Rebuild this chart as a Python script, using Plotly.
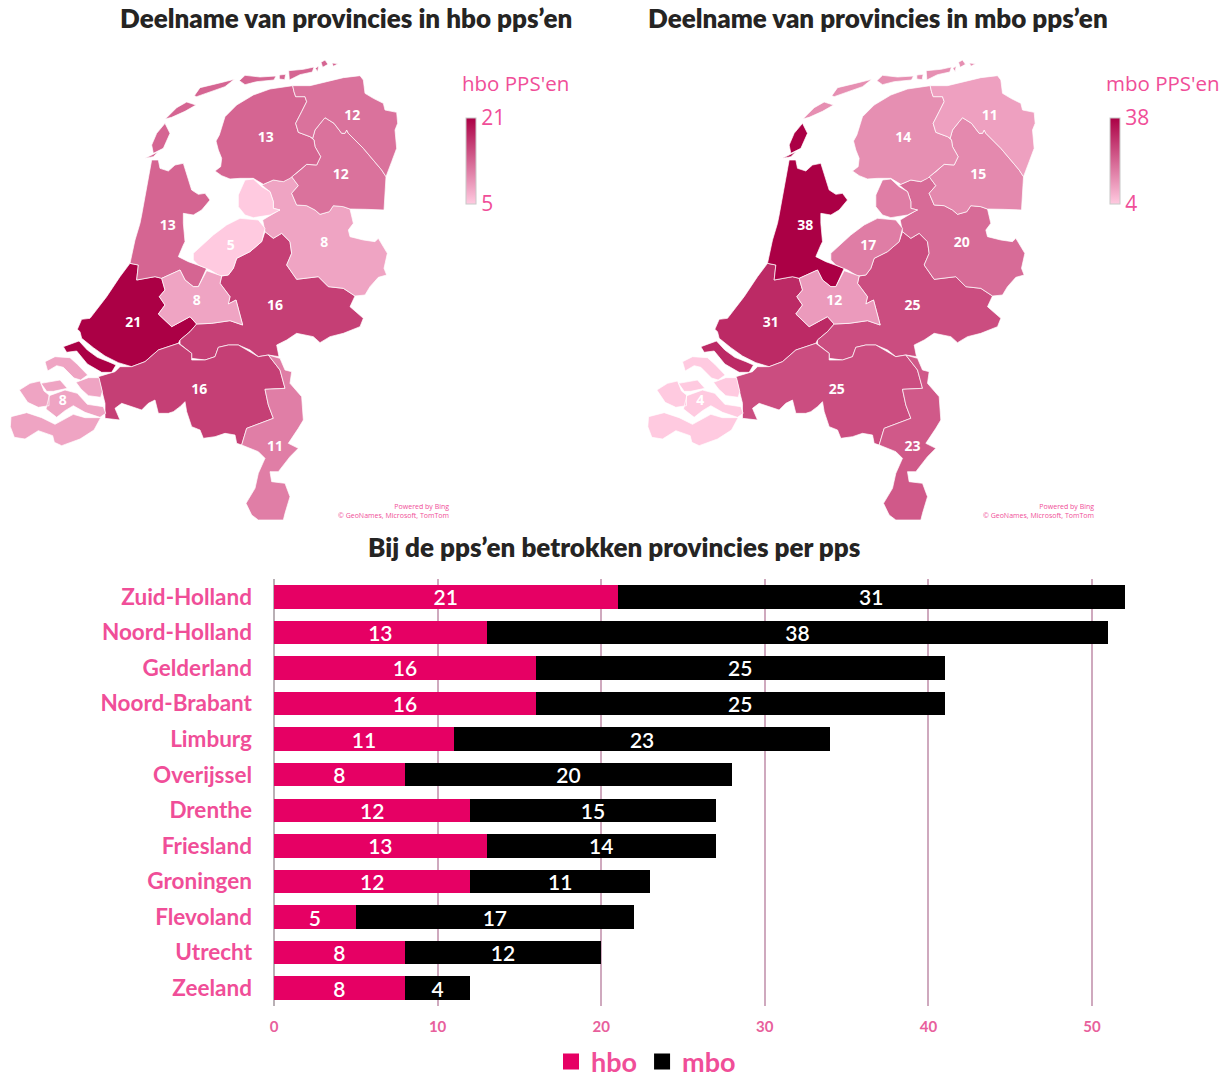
import plotly.graph_objects as go
from plotly.colors import sample_colorscale

W, H = 1227, 1078

# ---- chart data ----
provinces = ["Zuid-Holland", "Noord-Holland", "Gelderland", "Noord-Brabant", "Limburg", "Overijssel",
             "Drenthe", "Friesland", "Groningen", "Flevoland", "Utrecht", "Zeeland"]
hbo = [21, 13, 16, 16, 11, 8, 12, 13, 12, 5, 8, 8]
mbo = [31, 38, 25, 25, 23, 20, 15, 14, 11, 17, 12, 4]

# ---- province outlines (map units) ----
friesland = [
    [(496,207),(530,173),(560,156),(588,165),(555,184),(515,202)],
    [(583,137),(600,113),(650,101),(703,88),(675,110),(630,125),(590,140)],
    [(718,92),(735,76),(780,81),(828,78),(822,90),(770,95),(735,104)],
    [(838,75),(857,73),(854,89),(838,87)],
    [(866,62),(910,58),(942,51),(937,66),(900,74),(868,90)],
    [(946,55),(956,48),(953,65)],
    [(963,37),(975,30),(984,43),(968,52)],
    [(996,39),(1014,41),(1000,49)],
    [(658,255),(675,200),(710,165),(760,135),(810,117),(878,107),(882,125),(887,140),(915,140),(920,155),(905,185),(887,220),(895,247),(930,260),(942,270),(945,290),(962,320),(950,345),(920,343),(895,365),(870,385),(850,395),(820,390),(790,403),(760,385),(720,385),(690,387),(665,377),(645,363),(662,350),(665,325),(655,300),(648,273)],
]
groningen = [[(878,107),(930,107),(980,95),(1030,83),(1080,77),(1090,90),(1095,130),(1120,145),(1150,160),(1155,180),(1190,187),(1193,220),(1185,240),(1190,295),(1175,335),(1158,380),(1145,360),(1090,295),(1045,250),(1040,240),(1035,250),(1025,250),(1002,220),(975,203),(965,215),(945,240),(938,265),(930,260),(895,247),(887,220),(905,185),(920,155),(915,140),(887,140),(882,125)]]
drenthe = [[(975,203),(1002,220),(1025,250),(1035,250),(1040,240),(1045,250),(1090,295),(1145,360),(1158,380),(1152,480),(1100,478),(1050,477),(1030,470),(1000,467),(988,485),(960,493),(945,480),(920,467),(890,465),(875,430),(895,407),(875,380),(895,365),(920,343),(950,345),(962,320),(945,290),(942,270),(938,265),(945,240),(965,215)]]
overijssel = [[(785,405),(820,390),(850,395),(875,380),(895,407),(875,430),(890,465),(920,467),(945,480),(960,493),(988,485),(1000,467),(1030,470),(1050,477),(1060,520),(1045,540),(1050,560),(1090,570),(1125,575),(1135,565),(1162,610),(1152,655),(1160,675),(1135,682),(1110,710),(1095,735),(1065,738),(1030,715),(985,710),(955,680),(890,688),(860,645),(875,610),(870,575),(845,550),(820,565),(795,545),(788,510),(835,482),(840,480),(820,475),(820,455),(810,425)]]
flevoland = [
    [(735,390),(760,387),(785,410),(810,425),(820,455),(820,475),(840,480),(810,495),(760,503),(735,495),(715,470),(715,435)],
    [(580,610),(640,555),(680,525),(720,505),(775,510),(795,535),(785,575),(750,605),(710,625),(700,655),(685,675),(660,678),(630,660),(595,645),(580,630)],
]
noord_holland = [
    [(455,330),(475,330),(480,355),(505,363),(525,345),(550,340),(575,420),(595,433),(615,430),(630,450),(605,480),(580,495),(550,490),(550,520),(555,575),(550,585),(535,620),(565,635),(620,655),(595,710),(580,710),(555,690),(540,660),(485,685),(465,680),(410,690),(415,645),(390,640),(405,570),(420,520),(425,495),(440,415)],
    [(495,220),(510,250),(490,295),(460,310),(455,285),(470,250)],
    [(435,325),(475,305),(460,320)],
]
zuid_holland = [
    [(390,640),(415,645),(410,690),(465,680),(485,685),(495,720),(478,740),(495,765),(475,792),(515,830),(570,800),(590,822),(570,845),(540,870),(535,880),(475,900),(435,935),(395,950),(355,938),(315,918),(280,893),(245,865),(240,845),(232,838),(245,808),(270,805),(320,740),(360,680)],
    [(190,890),(237,873),(262,900),(292,922),(325,935),(348,945),(335,967),(305,967),(262,942),(248,925),(230,903),(200,907)],
]
utrecht = [[(485,685),(540,660),(555,690),(580,710),(595,710),(620,662),(665,678),(660,700),(690,740),(685,762),(708,750),(728,825),(690,812),(635,820),(590,822),(570,800),(515,830),(475,792),(495,765),(478,740),(495,720)]]
gelderland = [[(795,545),(820,565),(845,550),(870,575),(875,610),(860,645),(890,688),(955,680),(985,710),(1030,715),(1065,738),(1050,770),(1090,805),(1080,830),(1030,850),(990,860),(960,878),(940,860),(890,850),(860,870),(830,885),(837,920),(805,915),(775,920),(750,900),(715,885),(685,885),(655,892),(645,920),(615,930),(575,925),(575,910),(540,882),(540,870),(570,845),(590,822),(635,820),(690,812),(728,825),(708,750),(685,762),(690,740),(660,700),(665,678),(685,675),(700,655),(710,625),(750,605),(785,575)]]
noord_brabant = [[(295,980),(345,965),(360,950),(395,950),(435,935),(475,900),(535,880),(575,910),(575,930),(615,930),(645,920),(655,892),(685,885),(715,885),(775,920),(805,915),(840,960),(855,1015),(795,1018),(805,1065),(820,1105),(740,1135),(725,1185),(710,1180),(705,1155),(675,1150),(645,1160),(610,1165),(600,1140),(575,1130),(560,1085),(555,1055),(540,1070),(520,1085),(505,1090),(475,1090),(465,1050),(445,1060),(425,1080),(365,1060),(345,1075),(360,1110),(315,1105),(315,1060),(305,1020)]]
limburg = [[(805,915),(840,925),(855,960),(875,965),(870,1000),(905,1040),(910,1110),(895,1135),(865,1180),(895,1195),(870,1220),(835,1265),(810,1265),(815,1295),(855,1300),(870,1340),(855,1390),(850,1410),(775,1410),(755,1395),(738,1360),(765,1315),(775,1270),(795,1225),(775,1205),(725,1185),(740,1135),(820,1105),(805,1065),(795,1018),(855,1015),(840,960)]]
zeeland = [
    [(135,935),(165,920),(210,923),(232,943),(263,975),(242,990),(222,984),(190,952),(170,947),(143,963)],
    [(228,997),(265,983),(297,983),(307,1025),(302,1042),(265,1037),(243,1017)],
    [(58,1020),(90,1000),(120,993),(132,1023),(147,1035),(147,1067),(115,1072),(83,1057)],
    [(123,1000),(180,990),(202,1015),(160,1024),(140,1024)],
    [(148,1037),(195,1020),(232,1030),(262,1063),(310,1070),(317,1090),(300,1102),(255,1087),(220,1067),(195,1082),(170,1102),(138,1077)],
    [(33,1100),(80,1088),(125,1103),(165,1123),(220,1093),(255,1103),(302,1103),(282,1140),(240,1167),(185,1187),(163,1177),(158,1157),(115,1142),(75,1167),(43,1162),(31,1130)],
]
shapes_by_province = {
    "Zuid-Holland": zuid_holland, "Noord-Holland": noord_holland, "Gelderland": gelderland,
    "Noord-Brabant": noord_brabant, "Limburg": limburg, "Overijssel": overijssel, "Drenthe": drenthe,
    "Friesland": friesland, "Groningen": groningen, "Flevoland": flevoland, "Utrecht": utrecht, "Zeeland": zeeland,
}
label_anchor = {
    "Zuid-Holland": (400,820), "Noord-Holland": (503,530), "Gelderland": (825,770), "Noord-Brabant": (598,1020),
    "Limburg": (825,1193), "Overijssel": (973,580), "Drenthe": (1022,377), "Friesland": (797,265),
    "Groningen": (1057,200), "Flevoland": (692,590), "Utrecht": (590,755), "Zeeland": (188,1055),
}

# ---- style ----
PINK_TEXT = "#F04E98"
DARK_TEXT = "#252423"
LOW, HIGH = "#FFCAE0", "#AB0045"
SCALE = [[0, LOW], [1, HIGH]]
TITLE_FONT = "Lato"
BAR_FONT = "Lato"
MAP_FONT = "Open Sans"


def dom_x(a, b):
    return [a / W, b / W]


def dom_y(top, bottom):
    return [1 - bottom / H, 1 - top / H]


fig = go.Figure()


def add_map(values, xa, ya, legend_title, title_x, cbar_x):
    lo, hi = min(values), max(values)
    for name, val in zip(provinces, values):
        xs, ys = [], []
        for poly in shapes_by_province[name]:
            xs += [p[0] for p in poly] + [poly[0][0], None]
            ys += [p[1] for p in poly] + [poly[0][1], None]
        colour = sample_colorscale(SCALE, (val - lo) / (hi - lo))[0]
        fig.add_trace(go.Scatter(x=xs, y=ys, xaxis=xa, yaxis=ya, mode="lines", fill="toself",
                                 fillcolor=colour, line=dict(color="white", width=0.7),
                                 name=name, showlegend=False, hoverinfo="name"))
    fig.add_trace(go.Scatter(
        x=[label_anchor[n][0] for n in provinces], y=[label_anchor[n][1] for n in provinces],
        xaxis=xa, yaxis=ya, mode="text", text=[str(v) for v in values],
        textfont=dict(family=MAP_FONT, size=14, color="white", weight=700),
        showlegend=False, hoverinfo="skip"))
    fig.add_trace(go.Scatter(
        x=[None, None], y=[None, None], xaxis=xa, yaxis=ya, mode="markers", showlegend=False, hoverinfo="skip",
        marker=dict(color=[lo, hi], cmin=lo, cmax=hi, colorscale=SCALE, showscale=True,
                    colorbar=dict(x=cbar_x / W, xanchor="left", y=1 - 118 / H, yanchor="top",
                                  len=86, lenmode="pixels", thickness=10, thicknessmode="pixels",
                                  outlinecolor="#C8C8C8", outlinewidth=1, borderwidth=0, xpad=0, ypad=0,
                                  tickmode="array", tickvals=[lo, hi], ticktext=[str(lo), str(hi)],
                                  ticks="", ticklabelposition="outside",
                                  tickfont=dict(family=MAP_FONT, size=21, color=PINK_TEXT)))))
    fig.add_annotation(xref="paper", yref="paper", x=title_x / W, y=1 - 83 / H, xanchor="left", yanchor="middle",
                       text=legend_title, showarrow=False, xshift=-2,
                       font=dict(family=MAP_FONT, size=20.5, color=PINK_TEXT))


# maps: both share the same outline units
add_map(hbo, "x2", "y2", "hbo PPS'en", 462, 466)
add_map(mbo, "x3", "y3", "mbo PPS'en", 1106, 1110)

for ax, left in (("xaxis2", 0), ("xaxis3", 637.5)):
    fig.layout[ax] = dict(domain=dom_x(left, left + 520), range=[0, 1560], visible=False, fixedrange=True)
for ax, xa in (("yaxis2", "x2"), ("yaxis3", "x3")):
    fig.layout[ax] = dict(domain=dom_y(50, 530), range=[1440, 0], visible=False, fixedrange=True, anchor=xa)
fig.layout.xaxis2.anchor = "y2"
fig.layout.xaxis3.anchor = "y3"

# bars
for name, vals, colour in (("hbo", hbo, "#E60064"), ("mbo", mbo, "#000000")):
    fig.add_trace(go.Bar(y=provinces, x=vals, name=name, orientation="h", showlegend=False,
                         marker=dict(color=colour, line_width=0),
                         text=vals, textposition="inside", insidetextanchor="middle", textangle=0,
                         constraintext="none",
                         insidetextfont=dict(family=BAR_FONT, size=21, color="white", weight=600)))
    # legend swatch with the reference's square size
    fig.add_trace(go.Scatter(x=[None], y=[None], name=name, mode="markers",
                             marker=dict(symbol="square", size=16, color=colour, line_width=0)))

fig.update_layout(
    width=W, height=H, margin=dict(l=0, r=0, t=0, b=0, autoexpand=False), paper_bgcolor="white", plot_bgcolor="white",
    barmode="stack", bargap=0.34, font=dict(family=BAR_FONT, color=PINK_TEXT),
    xaxis=dict(domain=dom_x(274, 1200), range=[0, 56.6], dtick=10, tick0=0, showgrid=True, gridcolor="#CFA9BE",
               gridwidth=1.5, zeroline=True, zerolinecolor="#B9B0B5", zerolinewidth=1.5, ticks="", showline=False,
               tickfont=dict(family=BAR_FONT, size=15, color="#E8609C", weight=700), ticklabelstandoff=10, anchor="y"),
    yaxis=dict(domain=dom_y(579, 1006), autorange="reversed", showgrid=False, ticks="", showline=False,
               tickfont=dict(family=BAR_FONT, size=22.5, color=PINK_TEXT, weight=700), ticklabelstandoff=21, anchor="x"),
    legend=dict(orientation="h", x=646 / W, xanchor="center", y=1 - 1062 / H, yanchor="middle", itemsizing="trace",
                itemwidth=30, font=dict(family=BAR_FONT, size=27, color=PINK_TEXT, weight=700), traceorder="normal",
                itemclick=False, itemdoubleclick=False, bgcolor="rgba(0,0,0,0)"),
)

titles = [("Deelname van provincies in hbo pps’en", 346, 18),
          ("Deelname van provincies in mbo pps’en", 878, 18),
          ("Bij de pps’en betrokken provincies per pps", 614, 547)]
for text, x, y in titles:
    fig.add_annotation(xref="paper", yref="paper", x=x / W, y=1 - y / H, xanchor="center", yanchor="middle",
                       text=text, showarrow=False, font=dict(family=TITLE_FONT, size=26, color=DARK_TEXT, weight=800))
for right in (451, 1096):
    fig.add_annotation(xref="paper", yref="paper", x=right / W, y=1 - 511 / H, xanchor="right", yanchor="middle", align="right",
                       text="Powered by Bing<br>© GeoNames, Microsoft, TomTom", showarrow=False,
                       font=dict(family=MAP_FONT, size=7, color=PINK_TEXT))

fig.write_html("out.html", config={"displayModeBar": False},
               post_script="document.body.style.margin='0';document.body.style.overflow='hidden';")
